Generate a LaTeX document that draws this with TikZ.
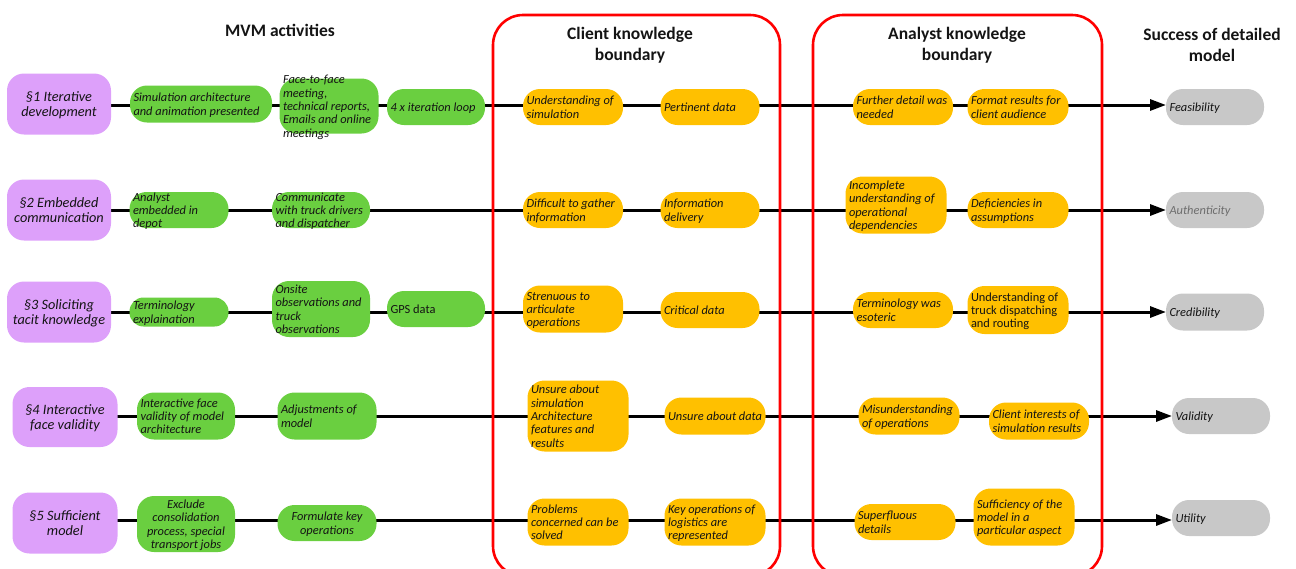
\documentclass[tikz,border=0pt]{standalone}
\usepackage{fontspec}
\setmainfont{Carlito}
\usetikzlibrary{arrows.meta,backgrounds}
\definecolor{purp}{RGB}{221,160,250}
\definecolor{grn}{RGB}{106,207,64}
\definecolor{org}{RGB}{255,192,0}
\definecolor{gry}{RGB}{200,200,200}
\definecolor{txt}{RGB}{20,20,20}
\definecolor{redb}{RGB}{255,0,0}
\definecolor{dimtxt}{RGB}{110,110,110}
\newcommand\lt[2]{\makebox[\dimexpr#1pt-7pt\relax][l]{\raisebox{\dimexpr-0.25em-1.8pt\relax}[0pt][0pt]{\begin{tabular}{@{}l@{}}#2\end{tabular}}}}
\newcommand\ct[2]{\makebox[\dimexpr#1pt-7pt\relax][c]{\raisebox{\dimexpr-0.25em-1.8pt\relax}[0pt][0pt]{\begin{tabular}{@{}c@{}}#2\end{tabular}}}}
\tikzset{
 box/.style={rectangle, rounded corners=17pt, inner sep=0pt, outer sep=0pt, text=txt, font=\fontsize{12.4}{13.3}\selectfont\itshape},
 sz/.style 2 args={minimum width=#1pt, minimum height=#2pt},
 pbox/.style={box, fill=purp, font=\fontsize{14.3}{15.6}\selectfont\itshape},
 gbox/.style={box, fill=grn},
 obox/.style={box, fill=org},
 sbox/.style={box, fill=gry},
 link/.style={line width=3pt, draw=black},
 arr/.style={link, -{Triangle[length=16pt,width=11pt]}},
 hdr/.style={font=\fontsize{17.5}{21}\selectfont\bfseries, text=txt, align=center},
 bound/.style={draw=redb, line width=2.6pt, rounded corners=30pt}
}
\begin{document}
\begin{tikzpicture}[x=1pt,y=-1pt]
\useasboundingbox (0,0) rectangle (1296,568);
% headers
\node[hdr] (hmvm) at (280,30) {MVM activities};
\node[hdr] (hcli) at (630,45) {Client knowledge\\boundary};
\node[hdr] (hana) at (957,45) {Analyst knowledge\\boundary};
\node[hdr] (hsuc) at (1212,45) {Success of detailed\\model};
% row coordinates
\coordinate (r1) at (0,105);
\coordinate (r2) at (0,210);
\coordinate (r3) at (0,312);
\coordinate (r4) at (0,416);
\coordinate (r5) at (0,520);
% row 1
\node[pbox, sz={104}{61}] (p1) at (59,104) {\ct{104}{\S1 Iterative\\development}};
\node[gbox, sz={142}{37}] (g11) at (201,104) {\lt{142}{Simulation architecture\\and animation presented}};
\node[gbox, sz={99}{55}] (g12) at (329,106) {\lt{99}{Face-to-face\\meeting,\\technical reports,\\Emails and online\\meetings}};
\node[gbox, sz={98}{36}] (g13) at (436,107) {\lt{98}{4 x iteration loop}};
\node[obox, sz={100}{36}] (o11) at (573,107) {\lt{100}{Understanding of\\simulation}};
\node[obox, sz={99}{36}] (o12) at (710,107) {\lt{99}{Pertinent data}};
\node[obox, sz={100}{36}] (o13) at (903,107) {\lt{100}{Further detail was\\needed}};
\node[obox, sz={101}{36}] (o14) at (1018,107) {\lt{101}{Format results for\\client audience}};
\node[sbox, sz={98}{36}] (s1) at (1215,107) {\lt{98}{Feasibility}};
% row 2
\node[pbox, sz={104}{61}] (p2) at (59,210) {\ct{104}{\S2 Embedded\\communication}};
\node[gbox, sz={99}{36}] (g21) at (179,210) {\lt{99}{Analyst\\embedded in\\depot}};
\node[gbox, sz={98}{36}] (g22) at (321,210) {\lt{98}{Communicate\\with truck drivers\\and dispatcher}};
\node[obox, sz={100}{36}] (o21) at (573,210) {\lt{100}{Difficult to gather\\information}};
\node[obox, sz={99}{36}] (o22) at (710,210) {\lt{99}{Information\\delivery}};
\node[obox, sz={101}{57}] (o23) at (896,205) {\lt{101}{Incomplete\\understanding of\\operational\\dependencies}};
\node[obox, sz={101}{36}] (o24) at (1018,210) {\lt{101}{Deficiencies in\\assumptions}};
\node[sbox, sz={98}{36}] (s2) at (1215,210) {\lt{98}{\color{dimtxt}Authenticity}};
% row 3
\node[pbox, sz={104}{61}] (p3) at (59,312) {\ct{104}{\S3 Soliciting\\tacit knowledge}};
\node[gbox, sz={99}{29}, rounded corners=14pt] (g31) at (179,312) {\lt{99}{Terminology\\explaination}};
\node[gbox, sz={98}{56}] (g32) at (321,309) {\lt{98}{Onsite\\observations and\\truck\\observations}};
\node[gbox, sz={98}{36}] (g33) at (436,309) {\lt{98}{\upshape GPS data}};
\node[obox, sz={100}{47}] (o31) at (573,309) {\lt{100}{Strenuous to\\articulate\\operations}};
\node[obox, sz={99}{36}] (o32) at (710,310) {\lt{99}{Critical data}};
\node[obox, sz={100}{36}] (o33) at (903,310) {\lt{100}{Terminology was\\esoteric}};
\node[obox, sz={101}{48}] (o34) at (1018,310) {\lt{101}{\upshape Understanding of\\\upshape truck dispatching\\\upshape and routing}};
\node[sbox, sz={98}{37}] (s3) at (1215,312) {\lt{98}{Credibility}};
% row 4
\node[pbox, sz={105}{60}] (p4) at (65,417) {\ct{105}{\S4 Interactive\\face validity}};
\node[gbox, sz={98}{47}] (g41) at (186,416) {\lt{98}{Interactive face\\validity of model\\architecture}};
\node[gbox, sz={99}{47}] (g42) at (327,416) {\lt{99}{Adjustments of\\model}};
\node[obox, sz={101}{71}] (o41) at (578,416) {\lt{101}{Unsure about\\simulation\\Architecture\\features and\\results}};
\node[obox, sz={101}{37}] (o42) at (715,416) {\lt{101}{Unsure about data}};
\node[obox, sz={101}{37}] (o43) at (909,416) {\lt{101}{Misunderstanding\\of operations}};
\node[obox, sz={100}{37}] (o44) at (1039,421) {\lt{100}{Client interests of\\simulation results}};
\node[sbox, sz={98}{36}] (s4) at (1221,416) {\lt{98}{Validity}};
% row 5
\node[pbox, sz={105}{61}] (p5) at (65,523) {\ct{105}{\S5 Sufficient\\model}};
\node[gbox, sz={98}{56}] (g51) at (186,524) {\ct{98}{Exclude\\consolidation\\process, special\\transport jobs}};
\node[gbox, sz={99}{36}] (g52) at (327,523) {\ct{99}{Formulate key\\operations}};
\node[obox, sz={101}{47}] (o51) at (578,522) {\lt{101}{Problems\\concerned can be\\solved}};
\node[obox, sz={101}{47}] (o52) at (715,522) {\lt{101}{Key operations of\\logistics are\\represented}};
\node[obox, sz={101}{36}] (o53) at (905,522) {\lt{101}{Superfluous\\details}};
\node[obox, sz={101}{57}] (o54) at (1024,517) {\lt{101}{Sufficiency of the\\model in a\\particular aspect}};
\node[sbox, sz={98}{36}] (s5) at (1221,518) {\lt{98}{Utility}};
% connectors
\begin{scope}[on background layer]
\draw[link] (p1|-r1) -- (g11|-r1);
\draw[link] (g11|-r1) -- (g12|-r1);
\draw[link] (g12|-r1) -- (g13|-r1);
\draw[link] (g13|-r1) -- (o11|-r1);
\draw[link] (o11|-r1) -- (o12|-r1);
\draw[link] (o12|-r1) -- (o13|-r1);
\draw[link] (o13|-r1) -- (o14|-r1);
\draw[arr] (o14|-r1) -- (s1.west|-r1);
\draw[link] (p2|-r2) -- (g21|-r2);
\draw[link] (g21|-r2) -- (g22|-r2);
\draw[link] (g22|-r2) -- (o21|-r2);
\draw[link] (o21|-r2) -- (o22|-r2);
\draw[link] (o22|-r2) -- (o23|-r2);
\draw[link] (o23|-r2) -- (o24|-r2);
\draw[arr] (o24|-r2) -- (s2.west|-r2);
\draw[link] (p3|-r3) -- (g31|-r3);
\draw[link] (g31|-r3) -- (g32|-r3);
\draw[link] (g32|-r3) -- (g33|-r3);
\draw[link] (g33|-r3) -- (o31|-r3);
\draw[link] (o31|-r3) -- (o32|-r3);
\draw[link] (o32|-r3) -- (o33|-r3);
\draw[link] (o33|-r3) -- (o34|-r3);
\draw[arr] (o34|-r3) -- (s3.west|-r3);
\draw[link] (p4|-r4) -- (g41|-r4);
\draw[link] (g41|-r4) -- (g42|-r4);
\draw[link] (g42|-r4) -- (o41|-r4);
\draw[link] (o41|-r4) -- (o42|-r4);
\draw[link] (o42|-r4) -- (o43|-r4);
\draw[link] (o43|-r4) -- (o44|-r4);
\draw[arr] (o44|-r4) -- (s4.west|-r4);
\draw[link] (p5|-r5) -- (g51|-r5);
\draw[link] (g51|-r5) -- (g52|-r5);
\draw[link] (g52|-r5) -- (o51|-r5);
\draw[link] (o51|-r5) -- (o52|-r5);
\draw[link] (o52|-r5) -- (o53|-r5);
\draw[link] (o53|-r5) -- (o54|-r5);
\draw[arr] (o54|-r5) -- (s5.west|-r5);
\end{scope}
% knowledge boundaries
\draw[bound] (493,15) rectangle (780,576);
\draw[bound] (813,15) rectangle (1102,576);
\end{tikzpicture}
\end{document}
